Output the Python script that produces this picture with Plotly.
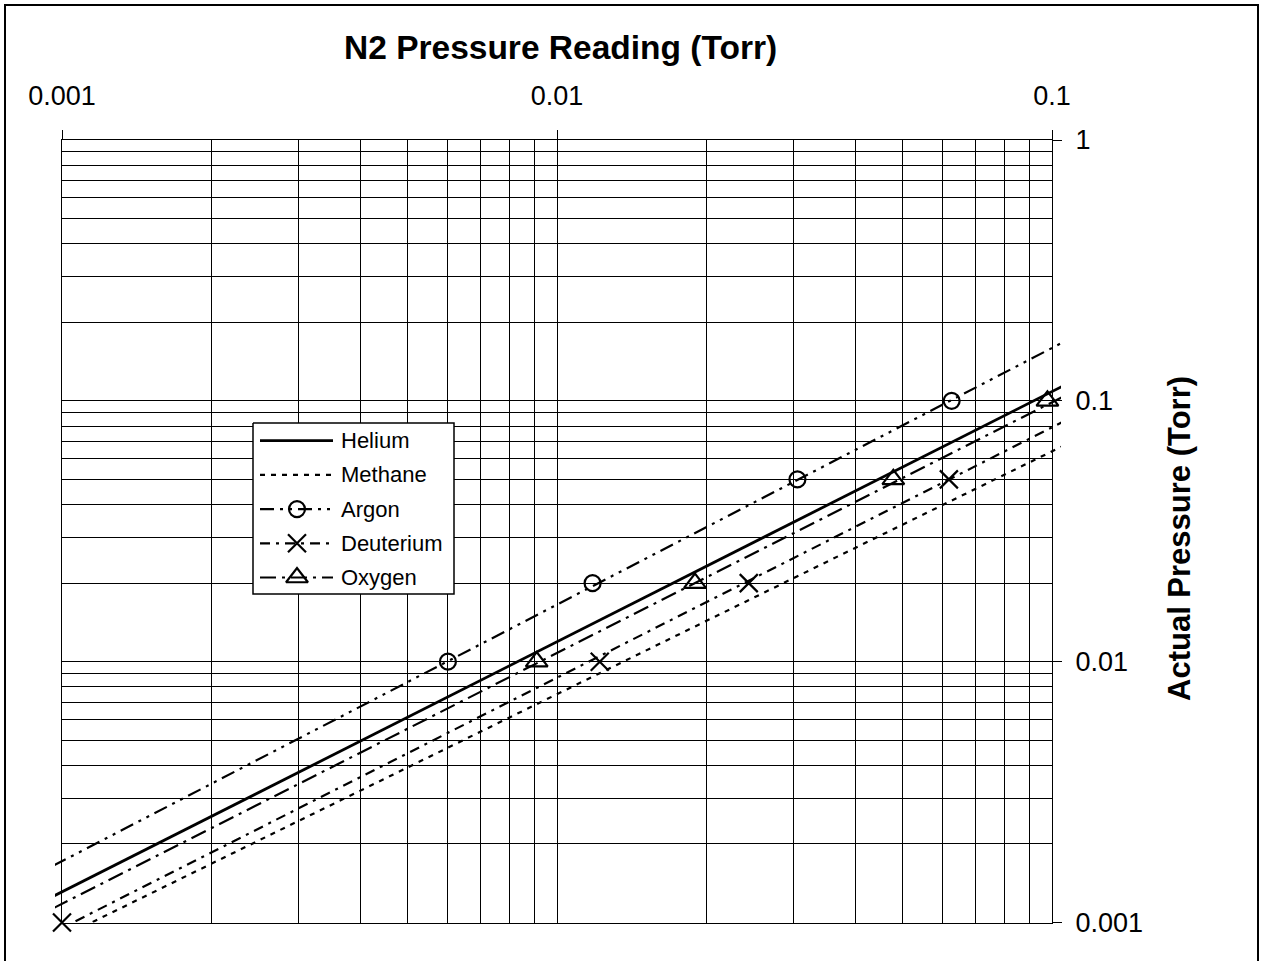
import plotly.graph_objects as go

W, H = 1266, 961

gases = ["Helium", "Methane", "Argon", "Deuterium", "Oxygen"]

# Calibration points: N2-equivalent gauge reading vs. actual pressure (Torr)
argon_n2 = [0.00602, 0.0118, 0.0306, 0.0627]
argon_actual = [0.01, 0.02, 0.05, 0.1]
deuterium_n2 = [0.001, 0.0122, 0.0244, 0.0619]
deuterium_actual = [0.001, 0.01, 0.02, 0.05]
oxygen_n2 = [0.0091, 0.0190, 0.0478, 0.0979]
oxygen_actual = [0.01, 0.02, 0.05, 0.1]

# Power-law fit lines, given at the two ends of the drawn span
fit_n2 = [0.00096, 0.105]
helium_fit = [0.00126, 0.1137]
methane_fit = [0.000847, 0.0670]
argon_fit = [0.00165, 0.1673]
deuterium_fit = [0.000916, 0.0829]
oxygen_fit = [0.001134, 0.1035]

x_tick_vals = [0.001, 0.01, 0.1]
x_tick_text = ["0.001", "0.01", "0.1"]
y_tick_vals = [0.001, 0.01, 0.1, 1]
y_tick_text = ["0.001", "0.01", "0.1", "1"]

fits = {
    "Helium": helium_fit,
    "Methane": methane_fit,
    "Argon": argon_fit,
    "Deuterium": deuterium_fit,
    "Oxygen": oxygen_fit,
}
points = {
    "Argon": (argon_n2, argon_actual),
    "Deuterium": (deuterium_n2, deuterium_actual),
    "Oxygen": (oxygen_n2, oxygen_actual),
}
styles = {
    "Helium": dict(dash="solid", width=2.8, symbol=None, size=0),
    "Methane": dict(dash="5px,6px", width=2.2, symbol=None, size=0),
    "Argon": dict(dash="14px,6px,3px,6px,3px,6px", width=2.2,
                  symbol="circle-open", size=16),
    "Deuterium": dict(dash="10px,6px,3px,6px", width=2.2,
                      symbol="x-thin-open", size=18),
    "Oxygen": dict(dash="16px,6px,3px,6px", width=2.2,
                   symbol="triangle-up-open", size=19),
}

FONT = "Liberation Sans, Arial, sans-serif"

# plot-area geometry in pixels
PX_L, PX_R, PX_T, PX_B = 62, 1052, 140, 922.5
FIT_L, FIT_R = 55, 1061
DEC_X = (PX_R - PX_L) / 2.0

fig = go.Figure()

# fit lines on hidden axes whose x span reaches a few pixels past the frame
for g in gases:
    st = styles[g]
    fig.add_trace(go.Scatter(
        x=fit_n2, y=fits[g], mode="lines", xaxis="x2", yaxis="y2",
        line=dict(color="black", width=st["width"], dash=st["dash"]),
        showlegend=False, hoverinfo="skip"))

# measured points
for g in gases:
    if g not in points:
        continue
    xs, ys = points[g]
    st = styles[g]
    fig.add_trace(go.Scatter(
        x=xs, y=ys, mode="markers", xaxis="x", yaxis="y", cliponaxis=False,
        marker=dict(symbol=st["symbol"], size=st["size"], color="black",
                    line=dict(color="black", width=2.2)),
        showlegend=False, name=g))

# legend drawn on a pixel-scaled overlay axis
LG_X0, LG_X1, LG_Y0, LG_Y1 = 253, 454, 423, 594
fig.add_trace(go.Scatter(
    x=[LG_X0, LG_X1, LG_X1, LG_X0, LG_X0], y=[LG_Y0, LG_Y0, LG_Y1, LG_Y1, LG_Y0],
    mode="lines", fill="toself", fillcolor="white",
    line=dict(color="black", width=1.5), xaxis="x3", yaxis="y3",
    showlegend=False, hoverinfo="skip"))
annotations = []
for i, g in enumerate(gases):
    yy = 440.7 + i * 34.2
    st = styles[g]
    fig.add_trace(go.Scatter(
        x=[260, 333], y=[yy, yy], mode="lines", xaxis="x3", yaxis="y3",
        line=dict(color="black", width=st["width"], dash=st["dash"]),
        showlegend=False, hoverinfo="skip"))
    if st["symbol"]:
        fig.add_trace(go.Scatter(
            x=[297], y=[yy], mode="markers", xaxis="x3", yaxis="y3",
            marker=dict(symbol=st["symbol"], size=st["size"], color="black",
                        line=dict(color="black", width=2.2)),
            showlegend=False, hoverinfo="skip"))
    annotations.append(dict(
        x=339, y=yy, xref="x3", yref="y3", text=g, showarrow=False,
        xanchor="left", yanchor="middle",
        font=dict(size=22, color="black", family=FONT)))

annotations.append(dict(
    x=560 / W, y=1 - 48 / H, xref="paper", yref="paper",
    text="N2 Pressure Reading (Torr)", showarrow=False,
    xanchor="center", yanchor="middle",
    font=dict(size=33.5, color="black", family=FONT, weight="bold")))
annotations.append(dict(
    x=1179 / W, y=1 - 539 / H, xref="paper", yref="paper",
    text="Actual Pressure (Torr)", showarrow=False, textangle=-90,
    xanchor="center", yanchor="middle",
    font=dict(size=31, color="black", family=FONT, weight="bold")))

minor_x = [m * 10.0 ** e for e in range(-3, -1) for m in range(2, 10)]
minor_y = [m * 10.0 ** e for e in range(-3, 0) for m in range(2, 10)]

axis_common = dict(
    type="log", showline=True, linecolor="black", linewidth=1, mirror=True,
    ticks="outside", ticklen=9, tickcolor="black", tickwidth=1,
    showgrid=True, gridcolor="black", gridwidth=1, zeroline=False,
    tickfont=dict(size=27, color="black", family=FONT),
    automargin=False,
)

fig.update_layout(
    width=W, height=H,
    margin=dict(l=0, r=0, t=0, b=0),
    paper_bgcolor="white", plot_bgcolor="rgba(0,0,0,0)",
    showlegend=False,
    xaxis=dict(
        **axis_common, range=[-3, -1], domain=[PX_L / W, PX_R / W],
        side="top", anchor="y", tickmode="array", tickvals=x_tick_vals,
        ticktext=x_tick_text, ticklabelstandoff=14,
        minor=dict(tickmode="array", tickvals=minor_x, showgrid=True,
                   gridcolor="black", gridwidth=1, ticks=""),
    ),
    yaxis=dict(
        **axis_common, range=[-3, 0], domain=[1 - PX_B / H, 1 - PX_T / H],
        side="right", anchor="x", tickmode="array", tickvals=y_tick_vals,
        ticktext=y_tick_text, ticklabelstandoff=8,
        minor=dict(tickmode="array", tickvals=minor_y, showgrid=True,
                   gridcolor="black", gridwidth=1, ticks=""),
    ),
    xaxis2=dict(
        type="log", visible=False, anchor="y2", showgrid=False,
        range=[-3 - (PX_L - FIT_L) / DEC_X, -1 + (FIT_R - PX_R) / DEC_X],
        domain=[FIT_L / W, FIT_R / W],
    ),
    yaxis2=dict(
        type="log", visible=False, anchor="x2", showgrid=False,
        range=[-3, 0], domain=[1 - PX_B / H, 1 - PX_T / H],
    ),
    xaxis3=dict(visible=False, range=[0, W], domain=[0, 1], anchor="y3"),
    yaxis3=dict(visible=False, range=[H, 0], domain=[0, 1], anchor="x3"),
    annotations=annotations,
    shapes=[dict(type="rect", xref="paper", yref="paper",
                 x0=5 / W, x1=1258 / W, y0=-0.05, y1=1 - 5 / H,
                 line=dict(color="black", width=2), fillcolor="rgba(0,0,0,0)")],
)

fig.write_html("out.html")
